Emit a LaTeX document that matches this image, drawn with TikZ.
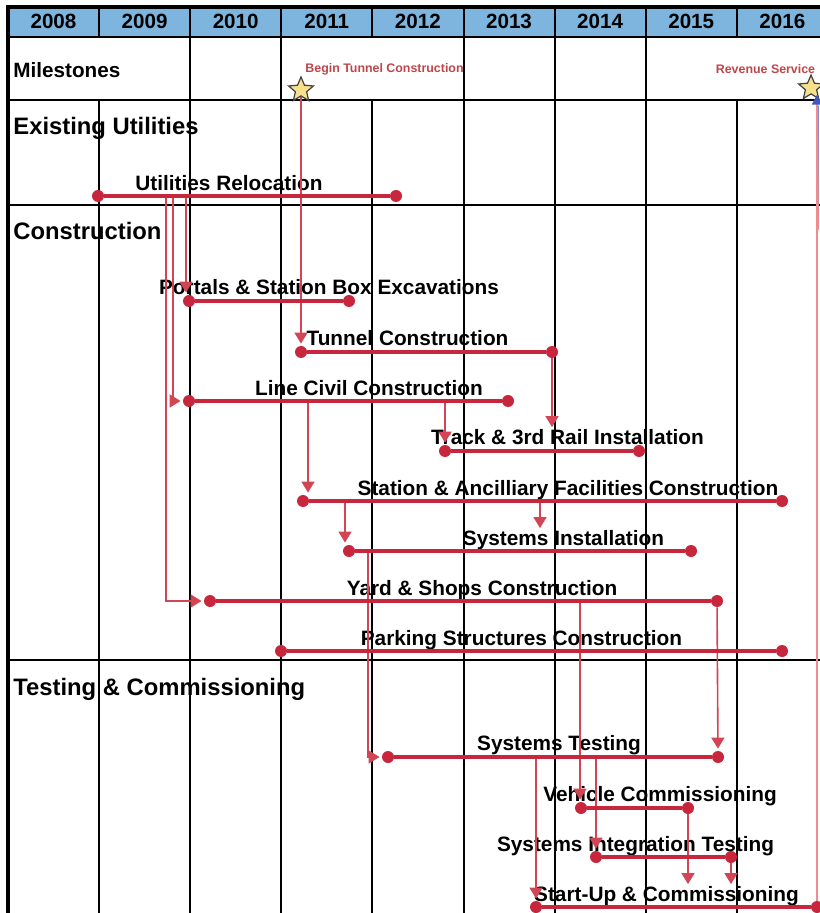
\documentclass[tikz,border=0pt]{standalone}
\usepackage{fontspec}
\setmainfont{Liberation Sans}
\usetikzlibrary{arrows.meta,shapes.geometric}
\definecolor{barc}{rgb}{0.78,0.15,0.24}
\definecolor{linkc}{rgb}{0.82,0.27,0.33}
\definecolor{milec}{rgb}{0.75,0.27,0.29}
\definecolor{headc}{rgb}{0.49,0.71,0.87}
\definecolor{starc}{rgb}{0.97,0.88,0.55}
\definecolor{revc}{rgb}{0.95,0.55,0.55}
\definecolor{revtipc}{rgb}{0.25,0.35,0.75}

\begin{document}
\begin{tikzpicture}[x=0.5pt, y=-0.5pt, >={Triangle[length=5.5pt, width=6.5pt]},
    grid/.style={draw=black, line width=1pt},
    bar/.style={draw=barc, line width=2.4pt},
    dot/.style={circle, fill=barc, inner sep=0pt, minimum size=6pt},
    link/.style={draw=linkc, line width=0.8pt, ->, shorten >=1pt},
    task/.style={font=\fontsize{10.4}{12}\selectfont\bfseries, inner sep=0pt, text height=7.5pt, text depth=0pt},
    section/.style={font=\fontsize{11.9}{14}\selectfont\bfseries, anchor=west, inner sep=0pt, text height=8.5pt, text depth=0pt},
    year/.style={font=\fontsize{10.3}{12}\selectfont\bfseries, inner sep=0pt, text height=7.4pt, text depth=0pt},
    mile/.style={font=\fontsize{6.2}{7}\selectfont\bfseries, text=milec, inner sep=0pt},
    milestar/.style={star, star points=5, star point ratio=2.2, draw=black!75, fill=starc, line width=0.6pt, minimum size=13pt, inner sep=0pt}]

    \useasboundingbox (0,0) rectangle (819,913);

    \fill[headc] (8,7) rectangle (830,37);
    \foreach \yr [count=\i from 0] in {2008,...,2016} {
        \node[year] (y\yr) at ({53.5+91.1*\i},21.5) {\yr};
        \draw[grid] ({99.1+91.1*\i},7) -- ({99.1+91.1*\i},37);
    }
    \foreach \i in {2,3,5,6,7} \draw[grid] ({8+91.1*\i},37) -- ({8+91.1*\i},100);
    \foreach \i in {1,...,8} \draw[grid] ({8+91.1*\i},100) -- ({8+91.1*\i},913);
    \draw[grid] (8,37) -- (830,37);
    \draw[grid] (8,100) -- (830,100);
    \draw[grid] (8,205) -- (830,205);
    \draw[grid] (8,660) -- (830,660);
    \draw[black, line width=1.6pt] (8,913) -- (8,7) -- (830,7);

    \node[section, font=\fontsize{10.35}{12}\selectfont\bfseries] (milestones) at (13,69) {Milestones};
    \node[section] (existing) at (13,126) {Existing Utilities};
    \node[section] (construction) at (13,231) {Construction};
    \node[section] (testing) at (13,687) {Testing \& Commissioning};

    \node[mile] (begin) at (384.5,69) {Begin Tunnel Construction};
    \node[mile] (revenue) at (765.5,69) {Revenue Service};
    \node[milestar] (star1) at (301,90) {};
    \node[milestar] (star2) at (811,88) {};

    \node[dot] (util-s) at (98,196) {};
    \node[dot] (util-e) at (396,196) {};
    \node[task] (util) at (229,183) {Utilities Relocation};

    \node[dot] (portals-s) at (189,301) {};
    \node[dot] (portals-e) at (349,301) {};
    \node[task] (portals) at (329,287) {Portals \& Station Box Excavations};

    \node[dot] (tunnel-s) at (301,352) {};
    \node[dot] (tunnel-e) at (552,352) {};
    \node[task] (tunnel) at (407.5,338) {Tunnel Construction};

    \node[dot] (linecivil-s) at (189,401) {};
    \node[dot] (linecivil-e) at (508,401) {};
    \node[task] (linecivil) at (369,388) {Line Civil Construction};

    \node[dot] (track-s) at (445,451) {};
    \node[dot] (track-e) at (639,451) {};
    \node[task] (track) at (567.5,437) {Track \& 3rd Rail Installation};

    \node[dot] (station-s) at (303,501) {};
    \node[dot] (station-e) at (782,501) {};
    \node[task] (station) at (568,488) {Station \& Ancilliary Facilities Construction};

    \node[dot] (sysinst-s) at (349,551) {};
    \node[dot] (sysinst-e) at (691,551) {};
    \node[task] (sysinst) at (563.5,538) {Systems Installation};

    \node[dot] (yard-s) at (210,601) {};
    \node[dot] (yard-e) at (717,601) {};
    \node[task] (yard) at (482,588) {Yard \& Shops Construction};

    \node[dot] (parking-s) at (281,651) {};
    \node[dot] (parking-e) at (782,651) {};
    \node[task] (parking) at (521.5,638) {Parking Structures Construction};

    \node[dot] (systest-s) at (388,757) {};
    \node[dot] (systest-e) at (718,757) {};
    \node[task] (systest) at (559,743) {Systems Testing};

    \node[dot] (vehicle-s) at (581,808) {};
    \node[dot] (vehicle-e) at (688,808) {};
    \node[task] (vehicle) at (660,794) {Vehicle Commissioning};

    \node[dot] (sysint-s) at (596,857) {};
    \node[dot] (sysint-e) at (731,857) {};
    \node[task] (sysint) at (635.5,844) {Systems Integration Testing};

    \node[dot] (startup-s) at (536,907) {};
    \node[dot] (startup-e) at (817,907) {};
    \node[task] (startup) at (666.5,894) {Start-Up \& Commissioning};

    \node[coordinate] (u1) at (186,196) {};
    \node[coordinate] (u2) at (173,196) {};
    \node[coordinate] (u3) at (166,196) {};
    \node[coordinate] (l1) at (308,401) {};
    \node[coordinate] (l2) at (445,401) {};
    \node[coordinate] (s1) at (345,501) {};
    \node[coordinate] (s2) at (540,501) {};
    \node[coordinate] (i1) at (368,551) {};
    \node[coordinate] (y1) at (580,601) {};
    \node[coordinate] (t1) at (536,757) {};
    \node[coordinate] (t2) at (596,757) {};

    \draw[link] (star1) -- (tunnel-s);
    \draw[link] (u1) -- (u1 |- portals-s.north);
    \draw[link] (u2) |- (linecivil-s);
    \draw[link] (u3) |- (yard-s);
    \draw[link] (l1) -- (l1 |- station-s.north);
    \draw[link] (l2) -- (track-s);
    \draw[link] (tunnel-e) -- (tunnel-e |- track.north);
    \draw[link] (s1) -- (s1 |- sysinst-s.north);
    \draw[link] (s2) -- (s2 |- sysinst.north);
    \draw[link] (i1) |- (systest-s);
    \draw[link] (yard-e) -- (systest-e);
    \draw[link] (y1) -- (y1 |- vehicle-s.north);
    \draw[link] (t1) -- (startup-s);
    \draw[link] (t2) -- (sysint-s);
    \draw[link] (vehicle-e) -- (vehicle-e |- startup.north);
    \draw[link] (sysint-e) -- (sysint-e |- startup.north);

    \shade[top color=revtipc!70, bottom color=revc] (816,106) rectangle (818.5,230);
    \draw[revc, line width=0.9pt, -{Triangle[length=5pt, width=5pt, color=revtipc]}] (startup-e) -- (startup-e |- star2.south);

    \draw[bar] (util-s) -- (util-e);
    \draw[bar] (portals-s) -- (portals-e);
    \draw[bar] (tunnel-s) -- (tunnel-e);
    \draw[bar] (linecivil-s) -- (linecivil-e);
    \draw[bar] (track-s) -- (track-e);
    \draw[bar] (station-s) -- (station-e);
    \draw[bar] (sysinst-s) -- (sysinst-e);
    \draw[bar] (yard-s) -- (yard-e);
    \draw[bar] (parking-s) -- (parking-e);
    \draw[bar] (systest-s) -- (systest-e);
    \draw[bar] (vehicle-s) -- (vehicle-e);
    \draw[bar] (sysint-s) -- (sysint-e);
    \draw[bar] (startup-s) -- (startup-e);

  \end{tikzpicture}
\end{document}
